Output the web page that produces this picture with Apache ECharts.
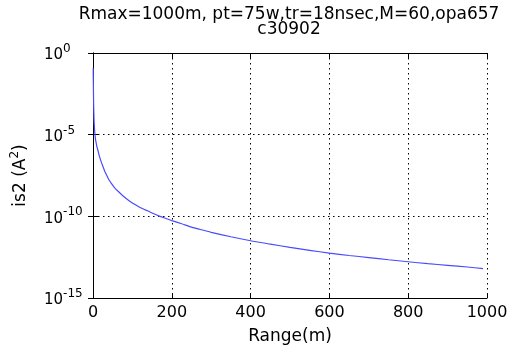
<!DOCTYPE html>
<html>
<head>
<meta charset="utf-8">
<script src="https://cdn.jsdelivr.net/npm/echarts@6/dist/echarts.min.js"></script>
<style>
  html, body { margin: 0; padding: 0; background: #fff; }
  #chart { width: 511px; height: 346px; }
</style>
</head>
<body>
<div id="chart"></div>
<script>
// range (m)
const ranges = [0.5, 1, 1.5, 2.5, 4, 5, 6.5, 8, 10, 13, 16, 20, 26, 30, 35, 40, 47, 55, 65, 75,
  85, 95, 105, 115, 128, 140, 150, 170, 185, 200, 225, 250, 275, 300, 350, 400, 450, 500,
  550, 600, 650, 700, 750, 800, 850, 900, 950, 990];
// is2 (A^2)
const is2 = [0.115, 1e-2, 1e-3, 1e-4, 2e-5, 1e-5, 5e-6, 3.2e-6, 1.8e-6, 1e-6, 5e-7, 2.5e-7,
  1e-7, 5.6e-8, 3.2e-8, 1.8e-8, 1e-8, 5.6e-9, 3.2e-9, 1.9e-9, 1.2e-9, 7.9e-10, 5.6e-10,
  4e-10, 2.8e-10, 2.1e-10, 1.6e-10, 1e-10, 7.4e-11, 5.5e-11, 3.5e-11, 2.2e-11, 1.5e-11,
  1.05e-11, 5.6e-12, 3.2e-12, 2e-12, 1.26e-12, 8.3e-13, 5.6e-13, 4e-13, 3e-13, 2.2e-13,
  1.66e-13, 1.26e-13, 1e-13, 7.9e-14, 6.3e-14];
const titleLines = ['Rmax=1000m, pt=75w,tr=18nsec,M=60,opa657', 'c30902'];

const FONT = 'DejaVu Sans';
const gridDots = { color: '#000', width: 1, type: [1.5, 3.5] };

const chart = echarts.init(document.getElementById('chart'));

chart.setOption({
  animation: false,
  backgroundColor: '#fff',
  title: {
    text: titleLines.join('\n'),
    left: 289,
    top: 7,
    padding: 0,
    textAlign: 'center',
    textStyle: {
      fontFamily: FONT,
      fontSize: 17,
      fontWeight: 'normal',
      color: '#000',
      lineHeight: 15,
    },
  },
  grid: {
    left: 93,
    right: 24,
    top: 53,
    bottom: 48,
    outerBoundsMode: 'none',
  },
  xAxis: [
    {
      type: 'value',
      min: 0,
      max: 1000,
      interval: 200,
      name: 'Range(m)',
      nameLocation: 'middle',
      nameGap: 30,
      nameTextStyle: { fontFamily: FONT, fontSize: 17, color: '#000' },
      axisLine: { lineStyle: { color: '#000', width: 1 } },
      axisTick: { inside: true, length: 5, lineStyle: { color: '#000' } },
      axisLabel: { fontFamily: FONT, fontSize: 16, color: '#000', margin: 7, formatter: (v) => String(v) },
      splitLine: { show: true, lineStyle: gridDots },
    },
    {
      type: 'value',
      position: 'top',
      min: 0,
      max: 1000,
      interval: 200,
      axisLine: { lineStyle: { color: '#000', width: 1 } },
      axisTick: { inside: true, length: 5, lineStyle: { color: '#000' } },
      axisLabel: { show: false },
      splitLine: { show: false },
    },
  ],
  yAxis: [
    {
      type: 'log',
      logBase: 10,
      min: 1e-15,
      max: 1,
      interval: 5,
      name: 'is2 (A{s|2})',
      nameLocation: 'middle',
      nameRotate: 90,
      nameGap: 60,
      nameTextStyle: {
        fontFamily: FONT,
        fontSize: 17,
        color: '#000',
        rich: {
          s: { fontFamily: FONT, fontSize: 12, color: '#000', verticalAlign: 'top', padding: [0, 0, 12, 0] },
        },
      },
      axisLine: { lineStyle: { color: '#000', width: 1 } },
      axisTick: { inside: true, length: 5, lineStyle: { color: '#000' } },
      axisLabel: {
        align: 'left',
        margin: 49,
        formatter: (v) => '{b|10}{s|' + Math.round(Math.log10(v)) + '}',
        rich: {
          b: { fontFamily: FONT, fontSize: 15, color: '#000', padding: [5, 0, 0, 0] },
          s: { fontFamily: FONT, fontSize: 12, color: '#000', verticalAlign: 'top' },
        },
      },
      splitLine: { show: true, lineStyle: gridDots },
    },
    {
      type: 'log',
      logBase: 10,
      position: 'right',
      min: 1e-15,
      max: 1,
      interval: 5,
      axisLine: { show: true, lineStyle: { color: '#000', width: 1 } },
      axisTick: { show: true, inside: true, length: 5, lineStyle: { color: '#000' } },
      axisLabel: { show: false },
      splitLine: { show: false },
    },
  ],
  series: [
    {
      type: 'line',
      xAxisIndex: 0,
      yAxisIndex: 0,
      data: ranges.map((r, i) => [r, is2[i]]),
      showSymbol: false,
      smooth: 0.2,
      lineStyle: { color: '#4a4aff', width: 1.2 },
    },
  ],
});
</script>
</body>
</html>
